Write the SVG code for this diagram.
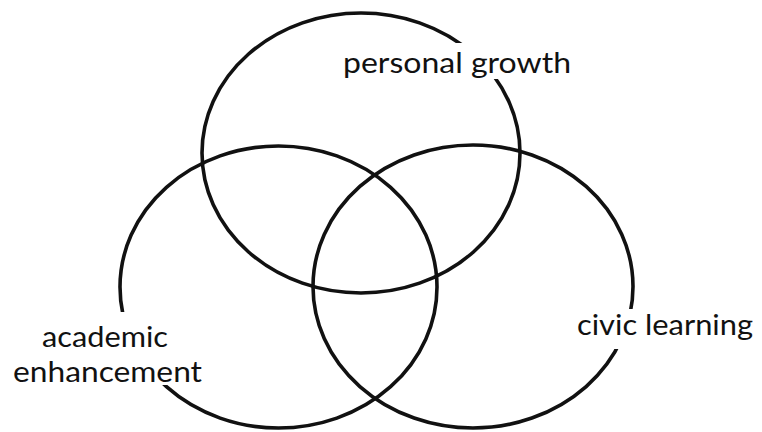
<svg xmlns="http://www.w3.org/2000/svg" width="762" height="432" viewBox="0 0 762 432">
<style>
.ring{fill:none;stroke:#111;stroke-width:3.6}
.bg{fill:#fff}
.lbl{font-family:"Lato","Noto Sans",sans-serif;font-size:29px;fill:#111}
</style>
<rect width="762" height="432" fill="#fff"/>
<g id="connectors"></g>
<g id="personal-growth">
<ellipse class="ring" cx="361" cy="153" rx="159" ry="140"/>
</g>
<g id="academic-enhancement">
<ellipse class="ring" cx="278.5" cy="287" rx="158.5" ry="141"/>
</g>
<g id="civic-learning">
<ellipse class="ring" cx="473" cy="286.5" rx="160" ry="141.5"/>
</g>
<g id="label-personal-growth">
<rect class="bg" x="340" y="43" width="235" height="36"/>
<text class="lbl" x="343" y="73" textLength="228" lengthAdjust="spacingAndGlyphs">personal growth</text>
</g>
<g id="label-civic-learning">
<rect class="bg" x="574" y="309" width="186" height="40"/>
<text class="lbl" x="577" y="335" textLength="176" lengthAdjust="spacingAndGlyphs">civic learning</text>
</g>
<g id="label-academic-enhancement">
<rect class="bg" x="10" y="312" width="196" height="73"/>
<text class="lbl" x="42" y="347" textLength="126" lengthAdjust="spacingAndGlyphs">academic</text>
<text class="lbl" x="13" y="382" textLength="189" lengthAdjust="spacingAndGlyphs">enhancement</text>
</g>
</svg>
